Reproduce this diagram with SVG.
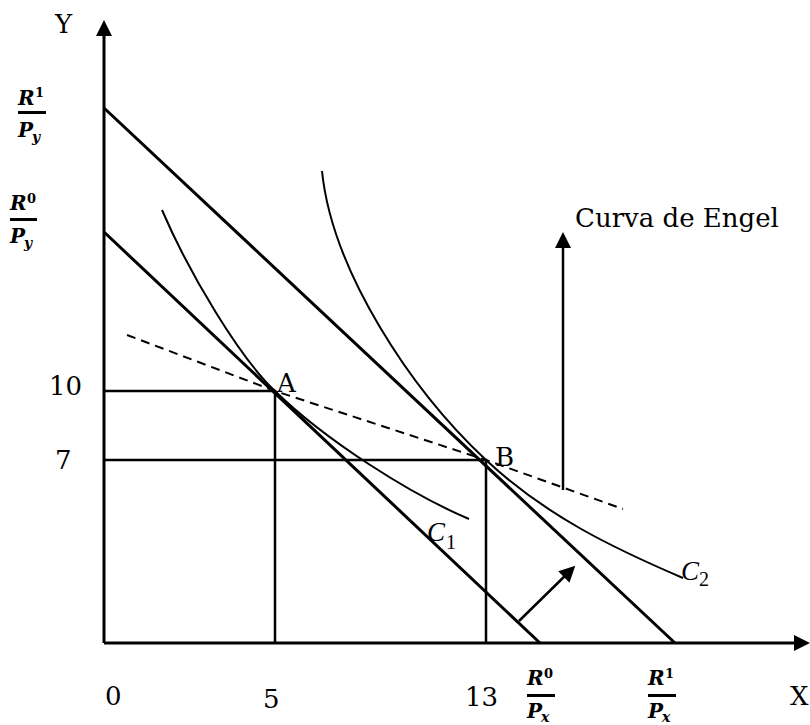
<svg xmlns="http://www.w3.org/2000/svg" width="810" height="725" viewBox="0 0 810 725">
<style>
.ax{stroke:#000;stroke-width:3;fill:none}
.bl{stroke:#000;stroke-width:3;fill:none}
.ic{stroke:#000;stroke-width:2;fill:none}
.gd{stroke:#000;stroke-width:2.5;fill:none}
.ds{stroke:#000;stroke-width:2;fill:none;stroke-dasharray:9 6}
.t{font-family:"DejaVu Serif","Liberation Serif",serif;font-size:26px;fill:#000}
.m{font-family:"DejaVu Serif","Liberation Serif",serif;font-weight:bold;font-style:italic;font-size:20px;fill:#000}
.ms{font-family:"DejaVu Serif","Liberation Serif",serif;font-weight:bold;font-size:13px;fill:#000}
.mi{font-family:"DejaVu Serif","Liberation Serif",serif;font-weight:bold;font-style:italic;font-size:14px;fill:#000}
.ci{font-family:"Liberation Serif",serif;font-style:italic;font-size:27px;fill:#000}
.cs{font-family:"Liberation Serif",serif;font-size:20px;fill:#000}
</style>
<defs>
<marker id="arr" viewBox="0 0 16 16" refX="10" refY="8" markerWidth="16" markerHeight="16" markerUnits="userSpaceOnUse" orient="auto">
<path d="M0,0 L16,8 L0,16 Z" fill="#000"/>
</marker>
</defs>
<rect width="810" height="725" fill="#fff"/>
<g id="axes">
<line class="ax" x1="104" y1="643" x2="104" y2="26" marker-end="url(#arr)"/>
<line class="ax" x1="104" y1="643" x2="804" y2="643" marker-end="url(#arr)"/>
</g>
<g id="guides">
<polyline class="gd" points="104,391 275,391 275,643"/>
<polyline class="gd" points="104,460 486,460 486,643"/>
</g>
<g id="budget-lines">
<line class="bl" x1="104" y1="108" x2="675" y2="643"/>
<line class="bl" x1="104" y1="232" x2="540" y2="643"/>
</g>
<g id="indifference-curves">
<path id="C1" class="ic" d="M162,210 C190,275 240,358 275,391 C325,440 410,494 469,519"/>
<path id="C2" class="ic" d="M322,171 C332,270 410,389 486,460 C546,516 613,548 683,578"/>
</g>
<g id="connectors">
<polyline class="ds" points="127,335 275,391 486,460 623,509"/>
<line class="gd" x1="563" y1="490" x2="563" y2="238" marker-end="url(#arr)"/>
<line class="gd" x1="519" y1="621" x2="571" y2="570" marker-end="url(#arr)"/>
</g>
<g id="labels">
<text class="t" x="55" y="33">Y</text>
<text class="t" x="49" y="395">10</text>
<text class="t" x="55" y="469">7</text>
<text class="t" x="105" y="705">0</text>
<text class="t" x="263" y="708">5</text>
<text class="t" x="465" y="706">13</text>
<text class="t" x="790" y="705">X</text>
<text class="t" x="277" y="392">A</text>
<text class="t" x="495" y="466">B</text>
<text class="t" x="575" y="227">Curva de Engel</text>
<text class="ci" x="427" y="541">C</text><text class="cs" x="446" y="549">1</text>
<text class="ci" x="681" y="580">C</text><text class="cs" x="699" y="586">2</text>
</g>
<g id="frac-R1-Py">
<text class="m" x="18" y="105">R</text><text class="ms" x="35" y="97">1</text>
<rect x="18" y="111" width="28" height="3" fill="#000"/>
<text class="m" x="18" y="137">P</text><text class="mi" x="32" y="142">y</text>
</g>
<g id="frac-R0-Py">
<text class="m" x="10" y="210">R</text><text class="ms" x="27" y="203">0</text>
<rect x="10" y="218" width="27" height="3" fill="#000"/>
<text class="m" x="10" y="243">P</text><text class="mi" x="24" y="248">y</text>
</g>
<g id="frac-R0-Px">
<text class="m" x="527" y="685">R</text><text class="ms" x="544" y="678">0</text>
<rect x="527" y="694" width="28" height="3" fill="#000"/>
<text class="m" x="527" y="718">P</text><text class="mi" x="541" y="722">x</text>
</g>
<g id="frac-R1-Px">
<text class="m" x="648" y="685">R</text><text class="ms" x="665" y="678">1</text>
<rect x="648" y="694" width="28" height="3" fill="#000"/>
<text class="m" x="648" y="718">P</text><text class="mi" x="662" y="722">x</text>
</g>
</svg>
